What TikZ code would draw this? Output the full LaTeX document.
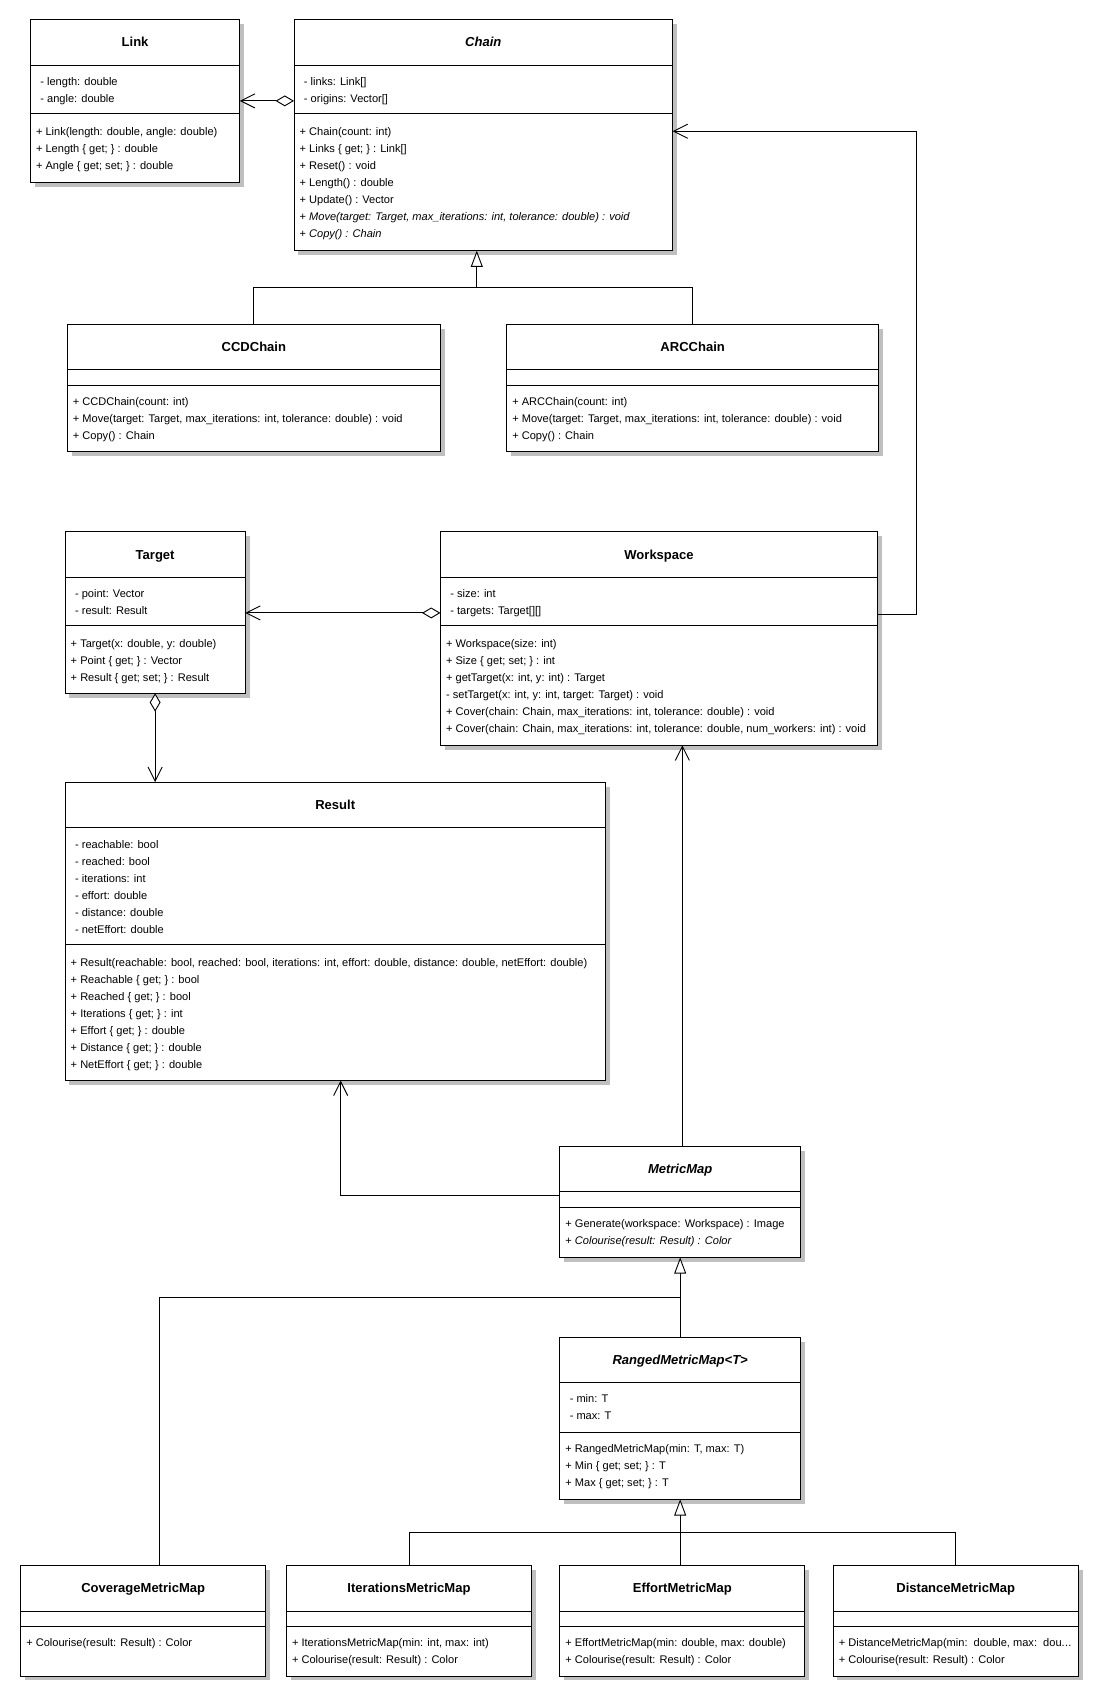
\documentclass[tikz,border=0pt]{standalone}
\usepackage{fontspec}
\setmainfont{Liberation Sans}
\usetikzlibrary{arrows.meta,calc}
\tikzset{
  classbox/.style={draw=black, line width=0.85pt, fill=white, inner sep=0pt, outer sep=0pt},
  shadowc/.style={fill=black!25},
  sepline/.style={draw=black, line width=0.85pt},
  titletext/.style={font=\fontsize{12}{14}\selectfont\bfseries, anchor=base, inner sep=0pt},
  ltext/.style={font=\fontsize{10.2}{12}\selectfont, anchor=base west, inner sep=0pt},
  conn/.style={line width=0.85pt},
  gen/.style={conn, -{Triangle[open, length=15pt, width=11pt, fill=white]}},
  nav/.style={conn, -{Straight Barb[length=13pt, width=13pt]}},
  aggr/.style={conn, {Diamond[open, length=17pt, width=10pt, fill=white]}-{Straight Barb[length=13pt, width=13pt]}},
}
\newcommand\trdots{.\kern0.3pt.\kern0.3pt.}
% #1 name, #2 x1, #3 y1, #4 x2, #5 y2, #6 title, #7 sep1, #8 sep2
\newcommand\UMLclass[8]{%
  \fill[shadowc] ({#2+4},{#3+4}) rectangle ({#4+4},{#5+4});
  \pgfmathsetmacro\bw{#4-#2}\pgfmathsetmacro\bh{#5-#3}
  \node[classbox, minimum width=\bw pt, minimum height=\bh pt, anchor=north west] (#1) at (#2,#3) {};
  \node[titletext] (#1-title) at ({(#2+#4)/2},{(#3+#7)/2+4.3}) {#6};
  \draw[sepline] (#2,#7) -- (#4,#7);
  \draw[sepline] (#2,#8) -- (#4,#8);
}
% #1 name prefix, #2 x, #3 y of first line centre, #4 list
\newcommand\UMLtext[4]{%
  \foreach \t [count=\i] in {#4} {
    \node[ltext] (#1-\i) at (#2, {#3 + (\i-1)*15.7 + 3.7}) {\t};
  }
}
\begin{document}
\begin{tikzpicture}[x=1pt, y=-1pt]
\fill[white] (0,0) rectangle (1016,1568);
\useasboundingbox (0,0) rectangle (1016,1568);

% Link
\UMLclass{link}{28}{18}{221}{168}{Link}{60}{105}
\UMLtext{linka}{37}{75}{{- length: double},{- angle: double}}
\UMLtext{linkm}{33}{121}{{+ Link(length: double, angle: double)},{+ Length \{ get; \} : double},{+ Angle \{ get; set; \} : double}}

% Chain
\UMLclass{chain}{271}{18}{620}{231}{\itshape Chain}{60}{105}
\UMLtext{chaina}{280}{75}{{- links: Link[]},{- origins: Vector[]}}
\UMLtext{chainm}{276}{121}{{+ Chain(count: int)},{+ Links \{ get; \} : Link[]},{+ Reset() : void},{+ Length() : double},{+ Update() : Vector},{+ \textit{Move(target: Target, max\_iterations: int, tolerance: double) : void}},{+ \textit{Copy() : Chain}}}

% CCDChain
\UMLclass{ccd}{62}{299}{406}{416}{CCDChain}{341}{355}
\UMLtext{ccdm}{67}{370}{{+ CCDChain(count: int)},{+ Move(target: Target, max\_iterations: int, tolerance: double) : void},{+ Copy() : Chain}}

% ARCChain
\UMLclass{arc}{467}{299}{810}{416}{ARCChain}{341}{355}
\UMLtext{arcm}{472}{370}{{+ ARCChain(count: int)},{+ Move(target: Target, max\_iterations: int, tolerance: double) : void},{+ Copy() : Chain}}

% Target
\UMLclass{target}{60}{490}{226}{639}{Target}{532}{577}
\UMLtext{targeta}{69}{547}{{- point: Vector},{- result: Result}}
\UMLtext{targetm}{65}{593}{{+ Target(x: double, y: double)},{+ Point \{ get; \} : Vector},{+ Result \{ get; set; \} : Result}}

% Workspace
\UMLclass{ws}{406}{490}{809}{687}{Workspace}{532}{577}
\UMLtext{wsa}{415}{547}{{- size: int},{- targets: Target[][]}}
\UMLtext{wsm}{411}{593}{{+ Workspace(size: int)},{+ Size \{ get; set; \} : int},{+ getTarget(x: int, y: int) : Target},{- setTarget(x: int, y: int, target: Target) : void},{+ Cover(chain: Chain, max\_iterations: int, tolerance: double) : void},{+ Cover(chain: Chain, max\_iterations: int, tolerance: double, num\_workers: int) : void}}

% Result
\UMLclass{result}{60}{721}{558}{996}{Result}{763}{871}
\UMLtext{resulta}{69}{778}{{- reachable: bool},{- reached: bool},{- iterations: int},{- effort: double},{- distance: double},{- netEffort: double}}
\UMLtext{resultm}{65}{887}{{+ Result(reachable: bool, reached: bool, iterations: int, effort: double, distance: double, netEffort: double)},{+ Reachable \{ get; \} : bool},{+ Reached \{ get; \} : bool},{+ Iterations \{ get; \} : int},{+ Effort \{ get; \} : double},{+ Distance \{ get; \} : double},{+ NetEffort \{ get; \} : double}}

% MetricMap
\UMLclass{mm}{516}{1057}{738}{1159}{\itshape MetricMap}{1098}{1113}
\UMLtext{mmm}{521}{1128}{{+ Generate(workspace: Workspace) : Image},{+ \textit{Colourise(result: Result) : Color}}}

% RangedMetricMap
\UMLclass{ranged}{516}{1233}{738}{1382}{\itshape RangedMetricMap<T>}{1274}{1320}
\UMLtext{rangeda}{525}{1289}{{- min: T},{- max: T}}
\UMLtext{rangedm}{521}{1335}{{+ RangedMetricMap(min: T, max: T)},{+ Min \{ get; set; \} : T},{+ Max \{ get; set; \} : T}}

% Bottom row
\UMLclass{cov}{19}{1443}{245}{1545}{CoverageMetricMap}{1485}{1499}
\UMLtext{covm}{24}{1514}{{+ Colourise(result: Result) : Color}}
\UMLclass{iter}{264}{1443}{490}{1545}{IterationsMetricMap}{1485}{1499}
\UMLtext{iterm}{269}{1514}{{+ IterationsMetricMap(min: int, max: int)},{+ Colourise(result: Result) : Color}}
\UMLclass{eff}{516}{1443}{742}{1545}{EffortMetricMap}{1485}{1499}
\UMLtext{effm}{521}{1514}{{+ EffortMetricMap(min: double, max: double)},{+ Colourise(result: Result) : Color}}
\UMLclass{dist}{768}{1443}{994}{1545}{DistanceMetricMap}{1485}{1499}
\UMLtext{distm}{773}{1514}{{+ DistanceMetricMap(min:\ \ double, max:\ \ dou\trdots},{+ Colourise(result: Result) : Color}}

% ---- connectors ----
\draw[aggr] ([yshift=-75pt]chain.north west) -- ([yshift=-75pt]link.north east);

\coordinate (cj) at ($(chain.south)!0.5!(ccd.north)$);
\coordinate (ctri) at ([xshift=-6pt]chain.south);
\draw[conn] (ccd.north) -- (ccd.north |- cj) -- (arc.north |- cj) -- (arc.north);
\draw[gen] (ctri |- cj) -- (ctri);

\draw[nav] ([yshift=-76pt]ws.north east) -- ++(36pt,0) |- ([yshift=-103pt]chain.north east);
\draw[aggr] ([yshift=-75pt]ws.north west) -- ([yshift=-75pt]target.north east);
\draw[aggr] (target.south) -- (target.south |- result.north);

\coordinate (mmtop) at ([xshift=2pt]mm.north);
\draw[nav] (mmtop) -- (mmtop |- ws.south);
\coordinate (resb) at ([xshift=5pt]result.south);
\draw[nav] ([yshift=-45pt]mm.north west) -| (resb);

\coordinate (mj) at ($(mm.south)!0.5!(ranged.north)$);
\coordinate (covtop) at ([xshift=15pt]cov.north);
\draw[gen] (ranged.north) -- (mm.south);
\draw[conn] (covtop) |- (mj);

\coordinate (rj) at ($(ranged.south)!0.5!(eff.north)$);
\draw[gen] (ranged.south |- eff.north) -- (ranged.south);
\draw[conn] (iter.north) |- (rj);
\draw[conn] (dist.north) |- (rj);
\end{tikzpicture}
\end{document}
